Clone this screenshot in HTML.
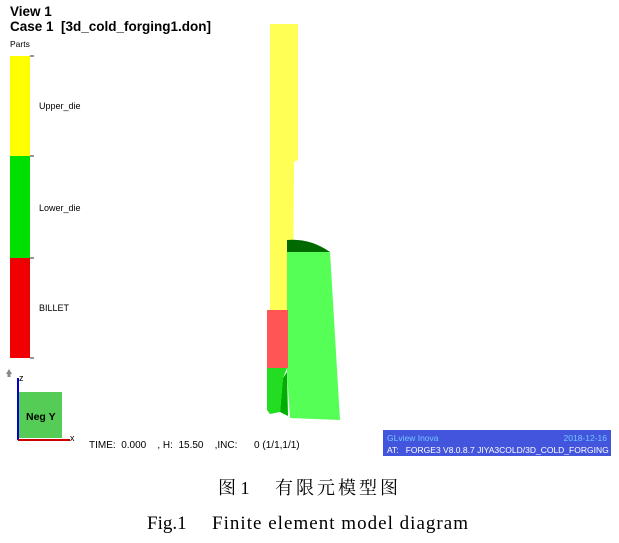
<!DOCTYPE html>
<html><head><meta charset="utf-8"><style>
body{margin:0;background:#fff;width:619px;height:543px;overflow:hidden}
svg{display:block}
text{white-space:pre}
.s{font-family:"Liberation Sans","DejaVu Sans",sans-serif}
</style></head><body>
<svg width="619" height="543" viewBox="0 0 619 543" xml:space="preserve">
<text x="10" y="16" class="s" font-size="13.5" font-weight="bold">View 1</text>
<text x="10" y="31" class="s" font-size="13.5" font-weight="bold">Case 1  [3d_cold_forging1.don]</text>
<text x="10" y="47" class="s" font-size="8.5">Parts</text>
<rect x="10" y="56" width="20" height="100" fill="#ffff00"/>
<rect x="10" y="156" width="20" height="102" fill="#00e000"/>
<rect x="10" y="258" width="20" height="100" fill="#f00000"/>
<path d="M30 56h4M30 156h4M30 258h4M30 358h4" stroke="#333" stroke-width="1"/>
<text x="39" y="109" class="s" font-size="9">Upper_die</text>
<text x="39" y="211" class="s" font-size="9">Lower_die</text>
<text x="39" y="311" class="s" font-size="9">BILLET</text>
<polygon points="270,24 298,24 298,160 294,162 293,310 270,310" fill="#ffff55"/>
<path d="M287,240 Q310,238 330,252 L287,252 Z" fill="#006a00"/>
<polygon points="287,252 330,252 340,420 290,418 287,372" fill="#55ff55"/>
<rect x="267" y="310" width="21" height="58" fill="#ff5555"/>
<polygon points="267,368 287,368 283,378 280,412 270,414 267,410" fill="#22dd22"/>
<polygon points="283,378 287,372 288,416 280,412" fill="#00b000"/>
<path d="M6 374 l3 -5 3 5 h-1.5 v3 h-3 v-3z" fill="#888"/>
<rect x="19" y="392" width="43" height="46" fill="#55cc55"/>
<line x1="18" y1="440" x2="18" y2="378" stroke="#0000cc" stroke-width="2"/>
<text x="19" y="381" class="s" font-size="9">z</text>
<line x1="18" y1="440" x2="70" y2="440" stroke="#cc0000" stroke-width="2"/>
<text x="70" y="441" class="s" font-size="9">x</text>
<text x="26" y="420" class="s" font-size="10.5" font-weight="bold">Neg Y</text>
<text x="89" y="448" class="s" font-size="10">TIME:  0.000    , H:  15.50    ,INC:      0 (1/1,1/1)</text>
<rect x="383" y="430" width="228" height="26" fill="#4455dd"/>
<text x="387" y="441" class="s" font-size="8.5" fill="#6fc8ff">GLview Inova</text>
<text x="607" y="441" class="s" font-size="8.5" fill="#6fc8ff" text-anchor="end">2018-12-16</text>
<text x="387" y="453" class="s" font-size="8.5" fill="#fff">AT:   FORGE3 V8.0.8.7 JIYA3COLD/3D_COLD_FORGING</text>
<text x="218" y="494" font-family="'Liberation Serif','Noto Serif CJK SC',serif" font-size="18">图 1</text>
<text x="275" y="494" font-family="'Noto Serif CJK SC',serif" font-size="18" letter-spacing="3">有限元模型图</text>
<text x="147" y="529" font-family="'Liberation Serif',serif" font-size="19">Fig.1</text>
<text x="212" y="529" font-family="'Liberation Serif',serif" font-size="19" textLength="256">Finite element model diagram</text>
</svg>
</body></html>
